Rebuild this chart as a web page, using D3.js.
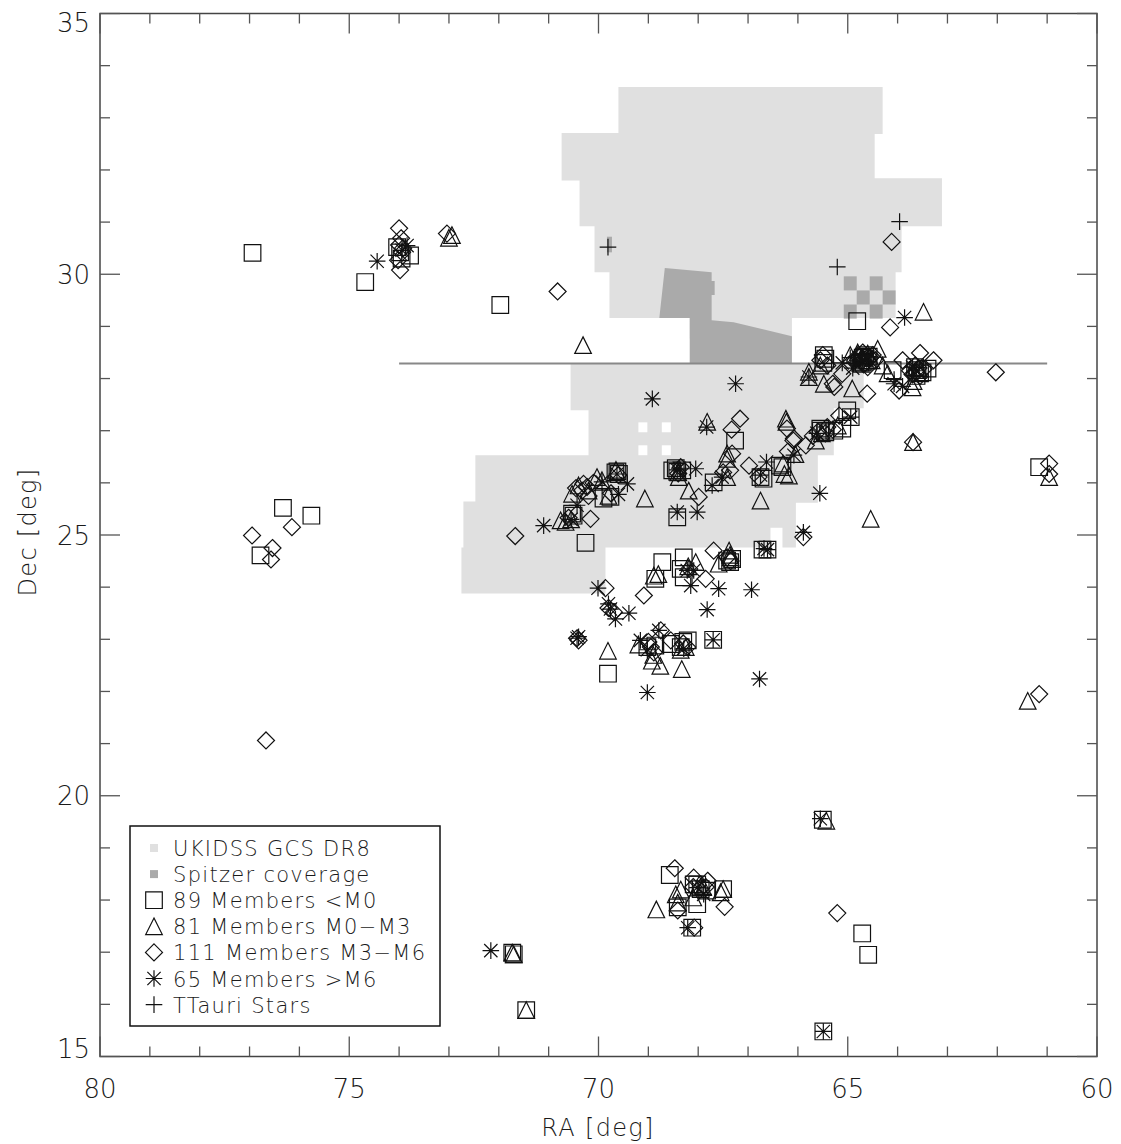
<!DOCTYPE html>
<html><head><meta charset="utf-8">
<script src="https://cdn.jsdelivr.net/npm/d3@7"></script>
<style>body{margin:0;background:#fff}</style>
</head><body>
<svg id="chart" width="1121" height="1144"></svg>
<script>
// ---- axis ticks ----
const raMajor = [80, 75, 70, 65, 60];
const decMajor = [35, 30, 25, 20, 15];
const raMinor = d3.range(60, 81, 1);
const decMinor = d3.range(15, 36, 1);

// ---- survey coverage footprints (RA, Dec vertices) ----
const ukidssNorth = [[69.60,33.59],[64.30,33.59],[64.30,32.69],[64.46,32.69],[64.46,31.84],[63.11,31.84],[63.11,30.92],[63.92,30.92],[63.92,30.04],[64.04,30.04],[64.04,29.16],[66.12,29.16],[66.12,28.77],[68.17,28.77],[68.17,29.16],[69.78,29.16],[69.78,30.04],[70.08,30.04],[70.08,30.92],[70.38,30.92],[70.38,31.80],[70.74,31.80],[70.74,32.71],[69.60,32.71]];
const ukidssSouth = [[70.56,28.29],[64.68,28.29],[64.68,27.43],[65.28,27.43],[65.28,26.53],[65.60,26.53],[65.60,25.62],[66.04,25.62],[66.04,24.76],[66.31,24.76],[66.31,25.14],[66.55,25.14],[66.55,24.76],[69.86,24.76],[69.86,23.88],[72.75,23.88],[72.75,24.76],[72.71,24.76],[72.71,25.64],[72.47,25.64],[72.47,26.53],[70.20,26.53],[70.20,27.39],[70.56,27.39]];
const ukidssGaps = [[69.20,27.16],[68.73,27.16],[69.20,26.72],[68.73,26.72]];
const spitzerMain = [[68.67,30.12],[67.73,30.04],[67.73,29.87],[67.67,29.87],[67.67,29.60],[67.73,29.60],[67.73,29.12],[67.29,29.08],[66.12,28.81],[66.12,28.29],[68.17,28.29],[68.17,29.16],[68.78,29.16]];
const spitzerTiles = [[65.08,29.96],[64.56,29.96],[64.82,29.69],[64.30,29.69],[65.08,29.42],[64.56,29.42]];
const spitzerStrip = [[69.83,30.72],[69.73,30.42]];
const boundaryLine = [[74.0,28.29],[61.0,28.29]];

// ---- members by spectral class (RA, Dec) ----
const membersLtM0 = [[76.94,30.41],[74.68,29.85],[74.04,30.52],[73.78,30.36],[73.95,30.30],[71.97,29.41],[64.81,29.10],[65.48,28.45],[65.49,28.30],[65.45,28.38],[64.70,28.40],[64.60,28.35],[64.75,28.30],[64.65,28.45],[64.10,28.16],[63.60,28.16],[63.55,28.10],[63.65,28.22],[63.40,28.19],[63.50,28.12],[65.54,27.00],[65.45,26.97],[64.94,27.26],[65.01,27.39],[65.27,27.00],[65.11,27.04],[66.36,26.33],[61.16,26.30],[67.26,26.81],[66.75,26.11],[66.69,26.08],[66.31,26.30],[68.42,25.34],[67.69,26.01],[68.52,26.24],[68.42,26.21],[68.32,26.24],[69.66,26.20],[69.59,26.17],[69.76,25.73],[69.90,25.70],[70.53,25.41],[70.50,25.37],[70.26,24.85],[66.71,24.72],[66.61,24.72],[68.72,24.48],[68.29,24.57],[68.35,24.35],[68.29,24.19],[68.86,24.16],[67.42,24.51],[67.32,24.54],[67.36,24.48],[69.81,22.34],[69.02,22.85],[68.86,22.88],[68.55,22.91],[68.21,22.98],[68.35,22.85],[67.70,22.99],[76.33,25.52],[75.76,25.37],[76.78,24.61],[65.50,19.54],[64.71,17.36],[64.59,16.95],[65.49,15.48],[68.57,18.48],[68.41,17.86],[68.02,17.92],[67.95,18.21],[67.82,18.18],[67.50,18.21],[68.12,17.47],[68.09,18.30],[71.73,16.99],[71.70,16.96],[71.45,15.89],[64.68,28.32],[64.58,28.42],[63.62,28.05],[65.55,27.04],[68.45,26.28],[69.62,26.22],[68.30,22.95],[68.02,18.30],[73.98,30.42],[64.72,28.28]];
const membersM0M3 = [[72.94,30.75],[70.31,28.64],[63.48,29.28],[65.78,28.03],[65.48,27.90],[64.91,27.81],[64.40,28.57],[64.60,28.48],[64.70,28.40],[64.52,28.35],[64.80,28.50],[63.70,27.83],[63.69,26.78],[66.24,27.23],[65.64,26.81],[65.78,28.13],[66.27,26.17],[66.30,26.37],[64.54,25.31],[60.96,26.11],[61.39,21.82],[67.82,27.17],[66.23,27.17],[67.42,26.56],[67.42,26.46],[67.42,26.11],[66.18,26.14],[66.75,25.66],[68.19,25.85],[68.39,26.11],[69.07,25.70],[70.03,26.11],[69.93,26.05],[70.40,25.95],[70.53,25.79],[70.76,25.28],[70.66,25.25],[69.80,25.75],[68.89,24.22],[68.80,24.25],[68.05,24.48],[67.59,24.45],[67.38,24.70],[67.35,24.57],[69.81,22.78],[68.93,22.59],[68.76,22.49],[68.33,22.43],[68.35,22.80],[65.43,19.52],[68.45,18.11],[68.84,17.82],[68.41,17.95],[67.98,18.30],[67.50,18.21],[68.10,18.05],[71.73,16.99],[71.70,16.96],[71.45,15.89],[63.58,28.20],[63.68,27.95],[65.55,28.25],[64.95,28.45],[68.40,26.20],[69.65,26.25],[70.20,25.85],[65.52,26.95],[67.36,24.62],[68.20,24.40],[68.90,22.70],[68.25,22.85],[68.35,18.20],[67.90,18.25],[64.20,28.10],[65.20,27.10],[66.05,26.55],[69.20,22.90],[67.55,18.15],[64.30,28.25],[70.55,25.30],[73.00,30.70]];
const membersM3M6 = [[74.00,30.88],[73.96,30.69],[74.00,30.56],[73.94,30.42],[73.98,30.08],[74.02,30.27],[73.04,30.78],[70.82,29.67],[64.12,30.62],[64.15,28.98],[65.41,28.25],[65.11,28.09],[65.27,27.84],[64.61,27.71],[63.97,27.77],[63.90,28.35],[63.55,28.49],[63.28,28.35],[62.03,28.12],[64.75,28.42],[64.65,28.30],[64.55,28.40],[64.85,28.35],[64.70,28.50],[64.60,28.22],[64.50,28.45],[63.65,28.25],[63.55,28.05],[63.75,28.15],[65.50,28.45],[66.22,27.04],[66.08,26.85],[65.84,26.72],[65.41,27.07],[65.30,27.02],[65.17,27.29],[65.70,26.90],[63.69,26.78],[60.96,26.37],[60.96,26.17],[65.89,24.96],[61.16,21.95],[67.16,27.23],[67.33,27.02],[66.09,26.81],[67.32,26.56],[67.36,26.24],[66.98,26.33],[66.79,26.11],[67.99,25.73],[68.40,26.18],[70.30,25.98],[70.23,25.92],[70.33,25.85],[70.20,25.75],[70.60,25.33],[70.16,25.31],[71.67,24.98],[67.69,24.70],[67.42,24.57],[67.85,24.16],[69.86,23.98],[69.09,23.84],[69.69,23.52],[70.43,23.02],[69.00,22.95],[68.75,23.17],[68.89,22.75],[68.55,22.98],[68.22,22.85],[76.15,25.15],[76.95,24.99],[76.54,24.75],[76.57,24.53],[76.67,21.06],[65.21,17.75],[68.47,18.61],[68.09,18.43],[68.41,17.80],[67.81,18.37],[67.47,17.87],[68.08,17.47],[64.62,28.38],[64.72,28.33],[64.80,28.43],[64.45,28.35],[64.68,28.27],[63.62,28.12],[63.58,28.20],[63.70,28.08],[63.48,28.18],[65.30,27.90],[65.55,28.35],[65.45,26.95],[65.60,26.98],[66.20,26.60],[67.50,26.20],[68.35,26.30],[69.60,26.15],[69.75,25.80],[70.45,25.90],[70.10,26.00],[69.80,23.60],[70.40,22.98],[68.95,22.85],[68.30,22.92],[68.18,24.35],[67.35,24.50],[68.10,18.25],[67.85,18.25],[73.92,30.50]];
const membersGtM6 = [[74.44,30.25],[73.94,30.46],[73.84,30.55],[63.86,29.17],[65.78,28.03],[64.07,27.90],[64.70,28.35],[64.60,28.42],[65.11,28.30],[63.62,28.15],[63.90,27.85],[64.94,27.26],[66.08,26.53],[65.56,25.80],[65.89,25.05],[66.61,24.72],[68.92,27.61],[67.25,27.90],[67.83,27.07],[65.62,26.95],[67.52,26.11],[66.63,26.40],[68.42,25.44],[68.02,25.44],[67.72,25.95],[68.42,26.25],[68.05,26.27],[69.63,26.17],[69.42,25.98],[69.93,26.02],[70.43,25.57],[70.55,25.30],[71.10,25.18],[68.22,24.32],[68.09,24.32],[68.15,24.03],[67.59,23.97],[66.93,23.95],[67.82,23.57],[70.01,23.98],[69.76,23.58],[69.80,23.68],[69.66,23.39],[69.39,23.50],[70.43,23.02],[70.40,23.05],[69.16,22.98],[68.79,23.17],[69.02,22.80],[68.29,22.82],[67.70,22.99],[69.02,21.98],[66.77,22.24],[65.55,19.56],[65.49,15.48],[68.21,17.47],[67.89,18.11],[68.02,18.24],[72.16,17.03],[66.68,24.74],[64.90,28.20],[63.70,28.22],[66.75,26.15],[68.38,26.28],[69.60,25.78]];
const tTauriStars = [[69.81,30.52],[65.21,30.14],[63.96,31.01],[64.07,27.98],[64.95,28.40]];

const legendLabels = ["UKIDSS GCS DR8", "Spitzer coverage", "89 Members <M0", "81 Members M0\u2212M3", "111 Members M3\u2212M6", "65 Members >M6", "TTauri Stars"];

// ---- layout ----
const svg = d3.select("#chart");
const plotLeft = 100, plotRight = 1097, plotTop = 13.5, plotBottom = 1056.5;
const x = d3.scaleLinear().domain([80, 60]).range([plotLeft, plotRight]);
const y = d3.scaleLinear().domain([35, 15]).range([plotTop, plotBottom]);
const font = "'DejaVu Sans', 'Liberation Sans', sans-serif";
const lightGrey = "#e0e0e0", darkGrey = "#aaaaaa", ink = "#111";

const poly = d3.line().x(d => x(d[0])).y(d => y(d[1]));
const plot = svg.append("g");

plot.append("path").attr("d", poly(ukidssNorth) + "Z").attr("fill", lightGrey);
plot.append("path").attr("d", poly(ukidssSouth) + "Z").attr("fill", lightGrey);
// small unobserved holes in the southern block
const gapH = y(26.97) - y(27.16);
plot.selectAll("rect.gap").data(ukidssGaps).join("rect")
  .attr("x", d => x(d[0])).attr("y", d => y(d[1]))
  .attr("width", x(69.02) - x(69.20)).attr("height", gapH).attr("fill", "#fff");
plot.append("path").attr("d", poly(spitzerMain) + "Z").attr("fill", darkGrey);
const tileW = x(64.82) - x(65.08), tileH = y(29.69) - y(29.96);
plot.selectAll("rect.tile").data(spitzerTiles).join("rect")
  .attr("x", d => x(d[0])).attr("y", d => y(d[1]))
  .attr("width", tileW).attr("height", tileH).attr("fill", darkGrey);
plot.append("rect").attr("x", x(spitzerStrip[0][0])).attr("y", y(spitzerStrip[0][1]))
  .attr("width", x(spitzerStrip[1][0]) - x(spitzerStrip[0][0]))
  .attr("height", y(spitzerStrip[1][1]) - y(spitzerStrip[0][1])).attr("fill", darkGrey);
plot.append("path").attr("d", poly(boundaryLine)).attr("stroke", "#888").attr("stroke-width", 2).attr("fill", "none");

// ---- marker shapes ----
const s = 8.3;
const shapes = {
  square: `M${-s},${-s}h${2*s}v${2*s}h${-2*s}Z`,
  triangle: `M0,${-s}L${s},${s}L${-s},${s}Z`,
  diamond: `M0,${-s-0.2}L${s+0.2},0L0,${s+0.2}L${-s-0.2},0Z`,
  asterisk: `M${-s},0H${s}M0,${-s}V${s}M${-s*0.8},${-s*0.8}L${s*0.8},${s*0.8}M${-s*0.8},${s*0.8}L${s*0.8},${-s*0.8}`,
  plus: `M${-s},0H${s}M0,${-s}V${s}`
};
const groups = [
  [membersLtM0, "square"], [membersM0M3, "triangle"], [membersM3M6, "diamond"],
  [membersGtM6, "asterisk"], [tTauriStars, "plus"]
];
groups.forEach(([data, shape]) => {
  plot.append("g").selectAll("path").data(data).join("path")
    .attr("d", shapes[shape])
    .attr("transform", d => `translate(${x(d[0])},${y(d[1])})`)
    .attr("fill", "none").attr("stroke", ink).attr("stroke-width", 1.2);
});

// ---- frame and ticks ----
const axisColor = "#444";
svg.append("rect").attr("x", plotLeft).attr("y", plotTop).attr("width", plotRight - plotLeft).attr("height", plotBottom - plotTop)
  .attr("fill", "none").attr("stroke", axisColor).attr("stroke-width", 1.5);
const tickG = svg.append("g").attr("stroke", "#555").attr("stroke-width", 1.3);
raMinor.forEach(v => {
  const len = raMajor.includes(v) ? 20 : 10;
  tickG.append("line").attr("x1", x(v)).attr("x2", x(v)).attr("y1", plotBottom).attr("y2", plotBottom - len);
  tickG.append("line").attr("x1", x(v)).attr("x2", x(v)).attr("y1", plotTop).attr("y2", plotTop + len);
});
decMinor.forEach(v => {
  const len = decMajor.includes(v) ? 20 : 10;
  tickG.append("line").attr("y1", y(v)).attr("y2", y(v)).attr("x1", plotLeft).attr("x2", plotLeft + len);
  tickG.append("line").attr("y1", y(v)).attr("y2", y(v)).attr("x1", plotRight).attr("x2", plotRight - len);
});

const txt = (sel) => sel.attr("font-family", font).attr("font-weight", 200).attr("fill", "#1a1a1a");
raMajor.forEach(v => {
  svg.append("text").call(txt).attr("x", x(v)).attr("y", 1098).attr("text-anchor", "middle")
    .attr("font-size", 26).text(v);
});
decMajor.forEach(v => {
  const yy = Math.min(Math.max(y(v), plotTop + 9), plotBottom - 8);
  svg.append("text").call(txt).attr("x", 90).attr("y", yy + 9.5).attr("text-anchor", "end")
    .attr("font-size", 26).text(v);
});
svg.append("text").call(txt).attr("x", 598).attr("y", 1136).attr("text-anchor", "middle")
  .attr("font-size", 24).attr("letter-spacing", 1.3).text("RA [deg]");
svg.append("text").call(txt).attr("transform", "translate(36,532) rotate(-90)").attr("text-anchor", "middle")
  .attr("font-size", 24).attr("letter-spacing", 1.3).text("Dec [deg]");

// ---- legend ----
const lg = svg.append("g");
lg.append("rect").attr("x", 130).attr("y", 826).attr("width", 310).attr("height", 200)
  .attr("fill", "#fff").attr("stroke", "#111").attr("stroke-width", 1.5);
const legendShapes = [null, null, "square", "triangle", "diamond", "asterisk", "plus"];
legendLabels.forEach((label, i) => {
  const base = 856 + i * 26.1;
  const cy = base - 8;
  if (i === 0 || i === 1) {
    lg.append("rect").attr("x", 150).attr("y", cy - 4).attr("width", 8).attr("height", 8)
      .attr("fill", i === 0 ? lightGrey : darkGrey);
  } else {
    lg.append("path").attr("d", shapes[legendShapes[i]]).attr("transform", `translate(154,${cy})`)
      .attr("fill", "none").attr("stroke", ink).attr("stroke-width", 1.2);
  }
  lg.append("text").call(txt).attr("x", 173).attr("y", base).attr("font-size", 21)
    .attr("letter-spacing", 1.3).text(label);
});
</script>
</body></html>
